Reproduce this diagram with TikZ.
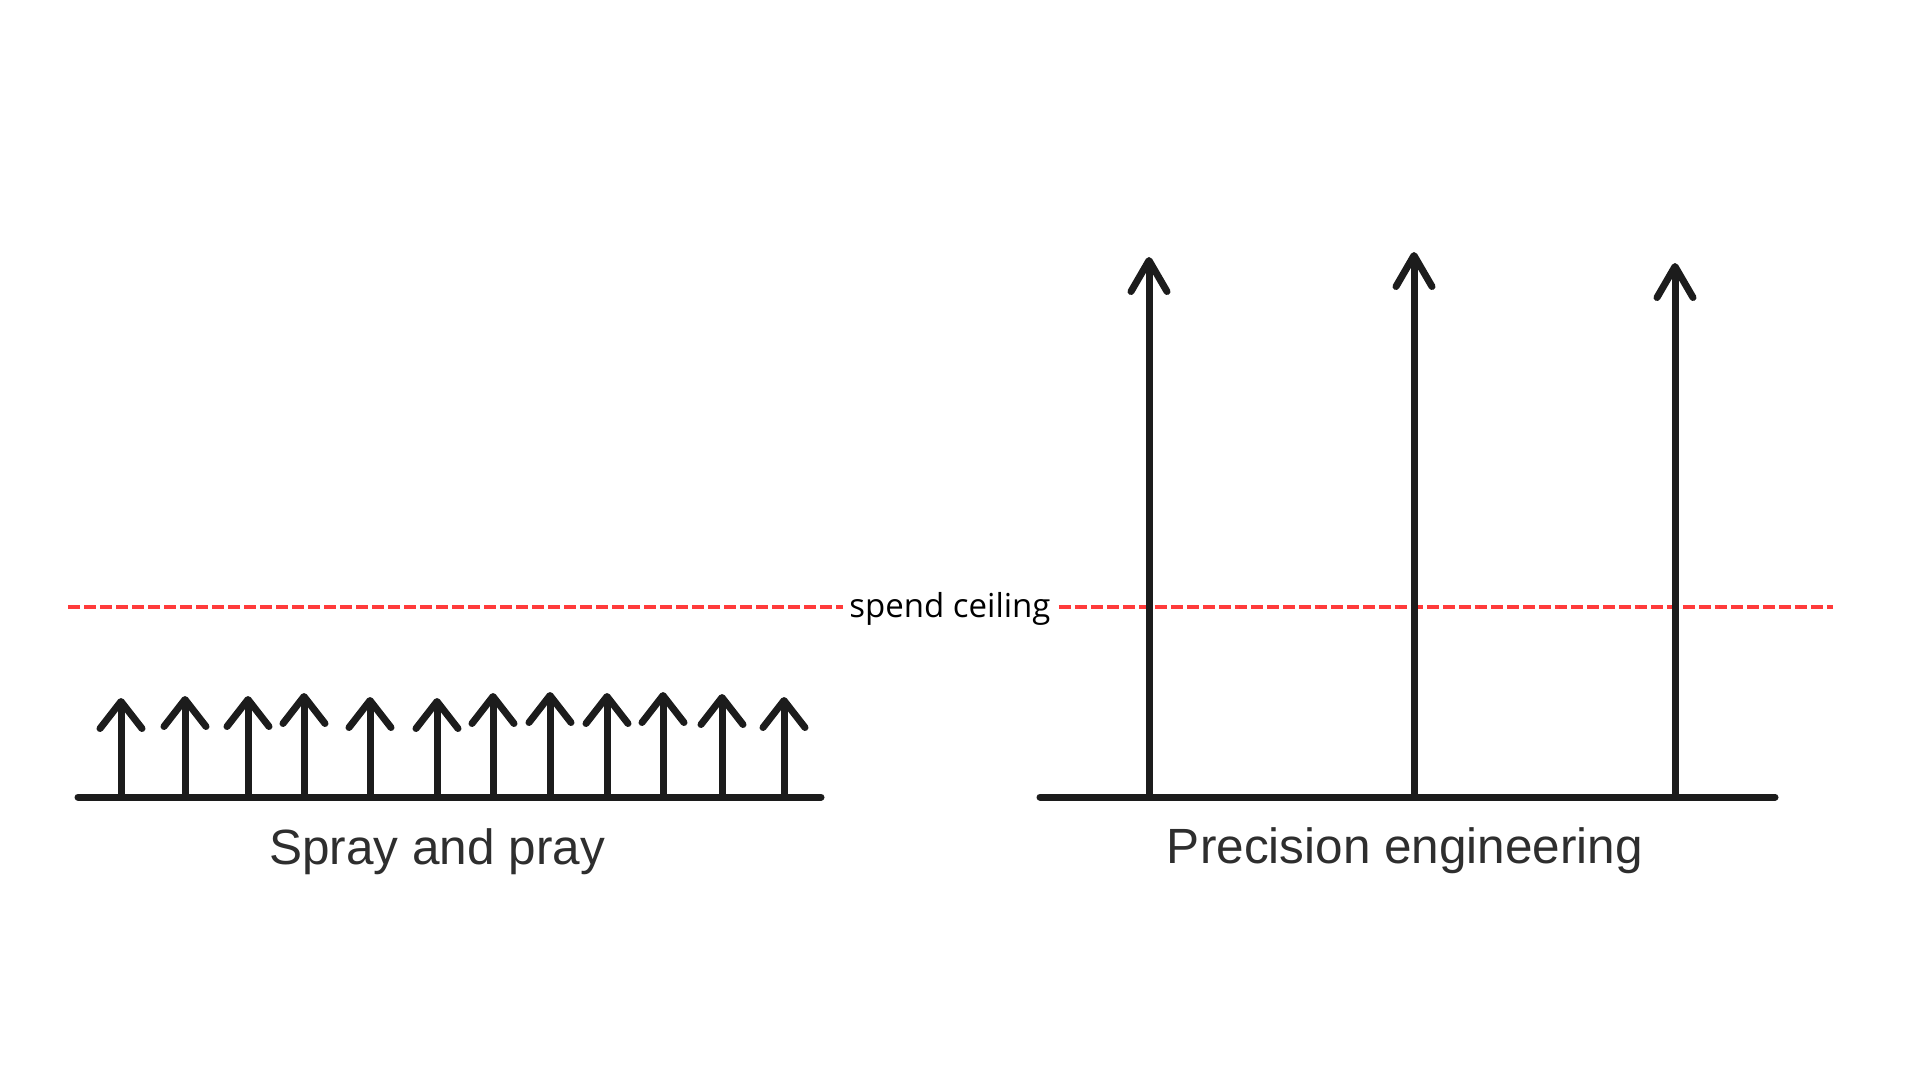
\documentclass[tikz,border=0pt]{standalone}
\usepackage{fontspec}
\setmainfont{Liberation Sans}
\newfontfamily\ceilfont{Open Sans}
\usetikzlibrary{arrows.meta}
\definecolor{ink}{HTML}{1C1C1C}
\definecolor{ceilred}{HTML}{FF3B3B}
\tikzset{
  axisline/.style={draw=ink, line width=7pt, line cap=round},
  smallarrow/.style={draw=ink, line width=7pt, line cap=round,
    -{Straight Barb[round, length=27pt, width=42pt]}},
  bigarrow/.style={draw=ink, line width=7pt, line cap=round,
    -{Straight Barb[round, length=31pt, width=36pt]}},
  ceiling/.style={draw=ceilred, line width=3.3pt, dash pattern=on 12pt off 4pt},
  ceiltext/.style={font=\ceilfont\fontsize{33}{38}\selectfont, text=black, inner sep=0pt, anchor=base},
  caption/.style={font=\fontsize{49.5}{58}\selectfont, text=ink!92!white, inner sep=0pt, anchor=base},
}
\begin{document}
\begin{tikzpicture}[x=1pt, y=-1pt]
\useasboundingbox (0,0) rectangle (1920,1080);
\fill[white] (0,0) rectangle (1920,1080);

% spend ceiling
\coordinate (cl) at (68,607);
\coordinate (cr) at (1833,607);
\node[ceiltext] (ceil) at (950,617) {spend ceiling};
\draw[ceiling] (cl) -- ([xshift=-6pt]ceil.west |- cl);
\draw[ceiling] ([xshift=8pt]ceil.east |- cr) -- (cr);

% left: spray and pray
\coordinate (la) at (78,797);
\coordinate (lb) at (821,797);
\draw[axisline] (la) -- (lb);
\foreach \x/\t [count=\i] in {121/698,185/696,248/696,304/693,370/697,437/698,493/693,550/692,607/693,663/692,722/694,784/697}{
  \coordinate (lbase\i) at (\x,797);
  \coordinate (ltip\i) at (\x,\t);
  \draw[smallarrow] (lbase\i) -- (ltip\i);
}
\node[caption] (spray) at (437,864) {Spray and pray};

% right: precision engineering
\coordinate (ra) at (1040,797);
\coordinate (rb) at (1775,797);
\draw[axisline] (ra) -- (rb);
\foreach \x/\t [count=\i] in {1149/257,1414/252,1675/263}{
  \coordinate (rbase\i) at (\x,797);
  \coordinate (rtip\i) at (\x,\t);
  \draw[bigarrow] (rbase\i) -- (rtip\i);
}
\node[caption] (prec) at (1405,863) {Precision engineering};
\end{tikzpicture}
\end{document}
